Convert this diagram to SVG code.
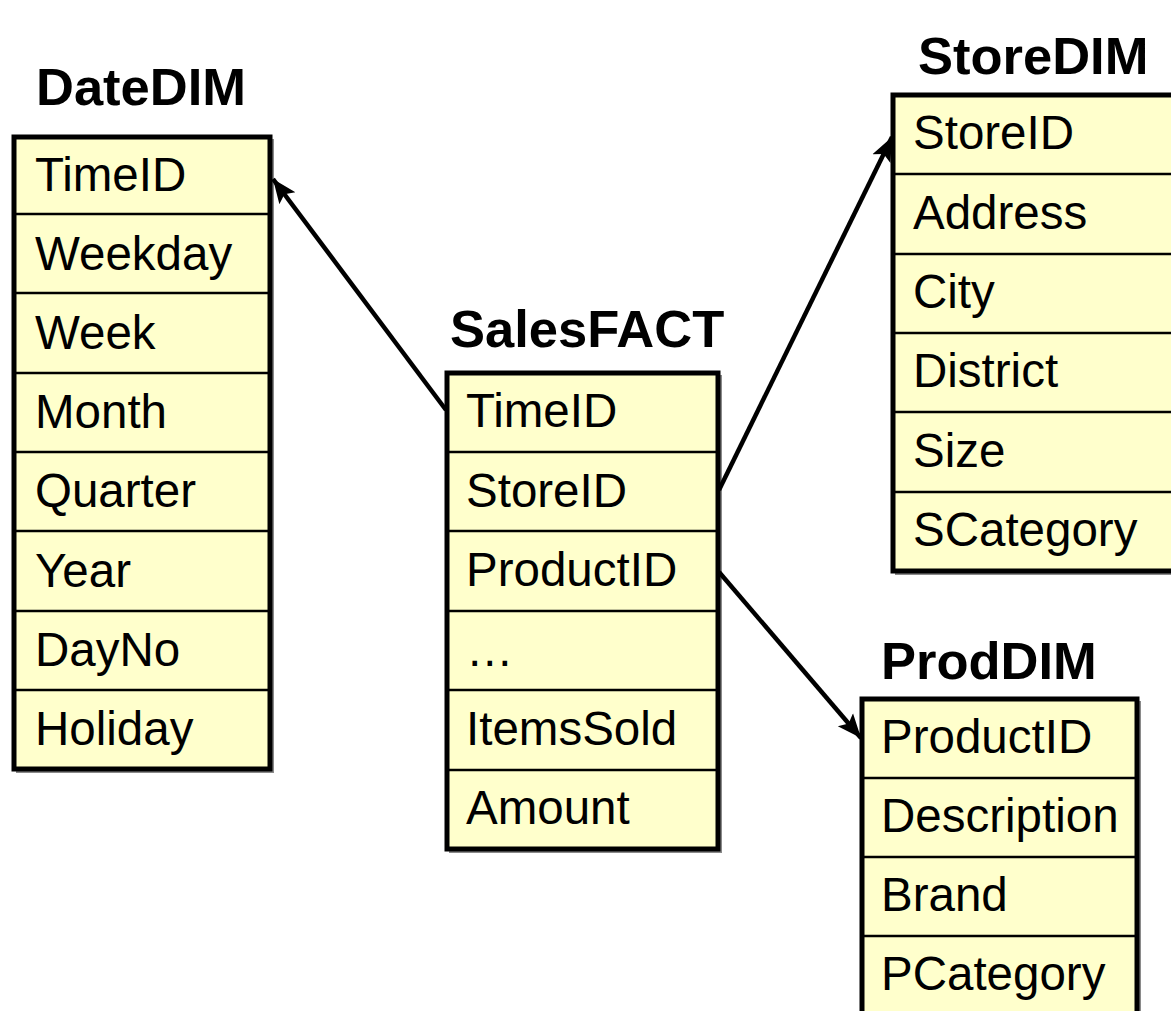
<svg xmlns="http://www.w3.org/2000/svg" width="1171" height="1011" viewBox="0 0 1171 1011">
  <style>
    .title { font-family: "Liberation Sans", Arial, sans-serif; font-weight: bold; font-size: 52.5px; fill: #000; }
    .field { font-family: "Liberation Sans", Arial, sans-serif; font-size: 47.5px; fill: #000; }
    .box { fill: #FFFFCC; stroke: #000; stroke-width: 5; }
    .shadow { fill: #8a8a8a; }
    .row { stroke: #000; stroke-width: 2.5; }
    .link { stroke: #000; stroke-width: 4.5; fill: none; }
  </style>
  <defs>
    <marker id="arrow" markerUnits="userSpaceOnUse" markerWidth="26" markerHeight="26" viewBox="0 0 26 26" refX="24" refY="13" orient="auto">
      <path d="M0,3 L24,13 L0,23 L5,13 Z" fill="#000"/>
    </marker>
  </defs>
  <rect width="1171" height="1011" fill="#fff"/>

  <!-- Date dimension table -->
  <g id="DateDIM">
    <text class="title" x="36" y="105">DateDIM</text>
    <rect class="shadow" x="16" y="139" width="258" height="634"/>
    <rect class="box" x="14" y="137" width="256" height="632"/>
    <line class="row" x1="14" y1="214" x2="270" y2="214"/>
    <line class="row" x1="14" y1="293" x2="270" y2="293"/>
    <line class="row" x1="14" y1="373" x2="270" y2="373"/>
    <line class="row" x1="14" y1="452" x2="270" y2="452"/>
    <line class="row" x1="14" y1="531" x2="270" y2="531"/>
    <line class="row" x1="14" y1="611" x2="270" y2="611"/>
    <line class="row" x1="14" y1="690" x2="270" y2="690"/>
    <text class="field" x="35" y="191">TimeID</text>
    <text class="field" x="35" y="270">Weekday</text>
    <text class="field" x="35" y="349">Week</text>
    <text class="field" x="35" y="428">Month</text>
    <text class="field" x="35" y="507">Quarter</text>
    <text class="field" x="35" y="587">Year</text>
    <text class="field" x="35" y="666">DayNo</text>
    <text class="field" x="35" y="745">Holiday</text>
  </g>

  <!-- Sales fact table -->
  <g id="SalesFACT">
    <text class="title" x="450" y="347">SalesFACT</text>
    <rect class="shadow" x="449" y="375" width="273" height="478"/>
    <rect class="box" x="447" y="373" width="271" height="476"/>
    <line class="row" x1="447" y1="452" x2="718" y2="452"/>
    <line class="row" x1="447" y1="531" x2="718" y2="531"/>
    <line class="row" x1="447" y1="611" x2="718" y2="611"/>
    <line class="row" x1="447" y1="690" x2="718" y2="690"/>
    <line class="row" x1="447" y1="770" x2="718" y2="770"/>
    <text class="field" x="466" y="427">TimeID</text>
    <text class="field" x="466" y="507">StoreID</text>
    <text class="field" x="466" y="586">ProductID</text>
    <text class="field" x="466" y="666">…</text>
    <text class="field" x="466" y="745">ItemsSold</text>
    <text class="field" x="466" y="824">Amount</text>
  </g>

  <!-- Store dimension table -->
  <g id="StoreDIM">
    <text class="title" x="918" y="74">StoreDIM</text>
    <rect class="shadow" x="895" y="97" width="290" height="478"/>
    <rect class="box" x="893" y="95" width="290" height="476"/>
    <line class="row" x1="893" y1="174" x2="1171" y2="174"/>
    <line class="row" x1="893" y1="254" x2="1171" y2="254"/>
    <line class="row" x1="893" y1="333" x2="1171" y2="333"/>
    <line class="row" x1="893" y1="412" x2="1171" y2="412"/>
    <line class="row" x1="893" y1="492" x2="1171" y2="492"/>
    <text class="field" x="913" y="149">StoreID</text>
    <text class="field" x="913" y="229">Address</text>
    <text class="field" x="913" y="308">City</text>
    <text class="field" x="913" y="387">District</text>
    <text class="field" x="913" y="467">Size</text>
    <text class="field" x="913" y="546">SCategory</text>
  </g>

  <!-- Product dimension table -->
  <g id="ProdDIM">
    <text class="title" x="881" y="679">ProdDIM</text>
    <rect class="shadow" x="864" y="701" width="277" height="330"/>
    <rect class="box" x="862" y="699" width="275" height="330"/>
    <line class="row" x1="862" y1="778" x2="1137" y2="778"/>
    <line class="row" x1="862" y1="857" x2="1137" y2="857"/>
    <line class="row" x1="862" y1="936" x2="1137" y2="936"/>
    <text class="field" x="881" y="753">ProductID</text>
    <text class="field" x="881" y="832">Description</text>
    <text class="field" x="881" y="911">Brand</text>
    <text class="field" x="881" y="990">PCategory</text>
  </g>

  <!-- Foreign key references from the fact table -->
  <g id="connectors">
    <line class="link" x1="446" y1="410" x2="273" y2="179" marker-end="url(#arrow)"/>
    <line class="link" x1="719" y1="490" x2="892" y2="137" marker-end="url(#arrow)"/>
    <line class="link" x1="719" y1="572" x2="861" y2="738" marker-end="url(#arrow)"/>
  </g>
</svg>
